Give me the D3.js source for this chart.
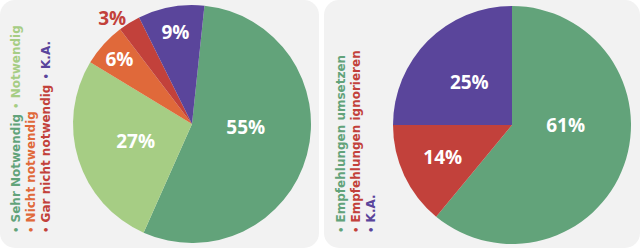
<!DOCTYPE html>
<html>
<head>
<meta charset="utf-8">
<script src="https://cdn.jsdelivr.net/npm/d3@7"></script>
<style>
  body { margin: 0; background: #fff; }
  svg { display: block; }
  text { font-family: 'Open Sans', sans-serif; font-weight: 700; }
  .legend text { font-family: 'DejaVu Sans', sans-serif; }
</style>
</head>
<body>
<svg width="640" height="248"></svg>
<script>
// left chart
let leftCats = ['Sehr Notwendig', 'Notwendig', 'Nicht notwendig', 'Gar nicht notwendig', 'K.A.']
let leftVals = [55, 27, 6, 3, 9]
let leftColors = ['#62a37a', '#a6cd84', '#e0693a', '#c2413b', '#5a459b']

// right chart
let rightCats = ['Empfehlungen umsetzen', 'Empfehlungen ignorieren', 'K.A.']
let rightVals = [61, 14, 25]
let rightColors = ['#62a37a', '#c2413b', '#5a459b']

let svg = d3.select('svg')

let drawPanel = (cfg) => {
    let g = svg.append('g')

    g.append('rect')
        .attr('x', cfg.x0)
        .attr('y', 0)
        .attr('width', cfg.w)
        .attr('height', 248)
        .attr('rx', 15)
        .attr('fill', '#f2f2f2')

    let data = cfg.cats.map((c, i) => ({ cat: c, val: cfg.vals[i], color: cfg.colors[i] }))
    let total = d3.sum(cfg.vals)

    let pie = d3.pie()
        .value(d => d.val)
        .sort(null)
        .startAngle(cfg.start)
        .endAngle(cfg.start + 2 * Math.PI)

    let arcs = pie(data)
    let R = 119
    let arc = d3.arc().innerRadius(0).outerRadius(R)

    let pg = g.append('g').attr('transform', `translate(${cfg.cx},${cfg.cy})`)

    pg.selectAll('path')
        .data(arcs)
        .enter()
        .append('path')
        .attr('d', arc)
        .attr('fill', d => d.data.color)

    let labelPos = d => {
        let p = d.data.val / total
        let mid = (d.startAngle + d.endAngle) / 2
        // big slices: center label in the part that lies in the right half
        if (p > 0.5 && d.startAngle < Math.PI) {
            mid = (d.startAngle + Math.min(d.endAngle, Math.PI)) / 2
        }
        let f = p < 0.05 ? 1.05 : Math.min(0.82, 0.45 + 0.9 * Math.exp(-11 * p))
        return [Math.sin(mid) * R * f, -Math.cos(mid) * R * f, p < 0.05]
    }

    pg.selectAll('text')
        .data(arcs)
        .enter()
        .append('text')
        .attr('x', d => labelPos(d)[0])
        .attr('y', d => labelPos(d)[1])
        .attr('text-anchor', d => {
            let [x, y, out] = labelPos(d)
            if (!out) return 'middle'
            return x < 0 ? 'end' : 'start'
        })
        .attr('dy', '0.36em')
        .attr('font-size', 19)
        .attr('fill', d => (labelPos(d)[2] ? d.data.color : '#fff'))
        .text(d => d.data.val + '%')

    // legend, rotated, wraps
    let lg = g.append('g')
        .attr('class', 'legend')
        .attr('transform', `translate(${cfg.lx},233) rotate(-90)`)
    let maxW = 214
    let lineH = 15
    let cx = 0
    let line = 0
    data.forEach(d => {
        let item = lg.append('text')
            .attr('font-size', 12)
            .attr('fill', d.color)
            .attr('dy', '0.36em')
        item.append('tspan').text('•').attr('font-size', 10)
        item.append('tspan').text(' ' + d.cat)
        let w = item.node().getComputedTextLength()
        if (cx > 0 && cx + w > maxW) {
            line++
            cx = 0
        }
        item.attr('x', cx).attr('y', line * lineH)
        cx += w + 5
    })
}

drawPanel({ x0: 0, w: 319, cx: 192, cy: 124, start: 6 * Math.PI / 180, lx: 16,
    cats: leftCats, vals: leftVals, colors: leftColors })
drawPanel({ x0: 324, w: 316, cx: 512, cy: 125, start: 0, lx: 341,
    cats: rightCats, vals: rightVals, colors: rightColors })
</script>
</body>
</html>
